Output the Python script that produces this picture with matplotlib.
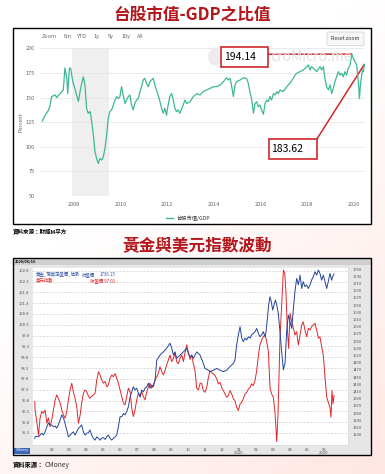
import matplotlib
matplotlib.use("Agg")
import matplotlib.pyplot as plt
import numpy as np
from matplotlib.patches import Rectangle, FancyBboxPatch, Circle

plt.rcParams['font.family'] = ['Noto Sans CJK TC', 'DejaVu Sans']

# ---- chart 1: Taiwan market cap / GDP (percent) ----
mv_year = [2006.64, 2006.76, 2006.90, 2006.97, 2007.04, 2007.19, 2007.26, 2007.40, 2007.54, 2007.61,
           2007.69, 2007.73, 2007.80, 2007.86, 2007.90, 2007.97, 2008.04, 2008.11, 2008.19, 2008.26,
           2008.33, 2008.40, 2008.47, 2008.54, 2008.61, 2008.69, 2008.76, 2008.83, 2008.90, 2008.97,
           2009.04, 2009.11, 2009.19, 2009.26, 2009.33, 2009.40, 2009.47, 2009.54, 2009.61, 2009.69,
           2009.76, 2009.83, 2009.90, 2009.97, 2010.04, 2010.11, 2010.19, 2010.26, 2010.33, 2010.40,
           2010.47, 2010.54, 2010.61, 2010.69, 2010.76, 2010.83, 2010.90, 2010.97, 2011.04, 2011.11,
           2011.19, 2011.26, 2011.33, 2011.40, 2011.47, 2011.54, 2011.61, 2011.69, 2011.76, 2011.83,
           2011.90, 2011.97, 2012.04, 2012.11, 2012.19, 2012.26, 2012.33, 2012.40, 2012.47, 2012.54,
           2012.69, 2012.76, 2012.84, 2012.98, 2013.12, 2013.27, 2013.41, 2013.55, 2013.69, 2013.84,
           2013.98, 2014.12, 2014.27, 2014.41, 2014.55, 2014.62, 2014.70, 2014.77, 2014.84, 2014.91,
           2014.98, 2015.13, 2015.27, 2015.41, 2015.48, 2015.55, 2015.63, 2015.70, 2015.77, 2015.84,
           2015.91, 2015.98, 2016.05, 2016.13, 2016.20, 2016.27, 2016.34, 2016.41, 2016.48, 2016.56,
           2016.63, 2016.70, 2016.77, 2016.84, 2016.98, 2017.13, 2017.27, 2017.41, 2017.49, 2017.56,
           2017.70, 2017.84, 2017.99, 2018.06, 2018.13, 2018.20, 2018.27, 2018.42, 2018.56, 2018.63,
           2018.70, 2018.77, 2018.84, 2018.92, 2018.99, 2019.06, 2019.13, 2019.20, 2019.27, 2019.35,
           2019.42, 2019.49, 2019.56, 2019.63, 2019.70, 2019.77, 2019.85, 2019.92, 2019.99, 2020.06,
           2020.13, 2020.20, 2020.25, 2020.30, 2020.35, 2020.39, 2020.42, 2020.46]
mv_pct = [126.2, 132.0, 137.0, 142.0, 151.0, 152.6, 150.0, 154.0, 157.7, 180.0,
          169.5, 154.0, 179.7, 179.7, 173.0, 164.0, 159.0, 152.6, 146.0, 156.0,
          164.5, 171.0, 162.7, 139.0, 134.0, 135.7, 125.5, 112.0, 95.0, 88.0,
          83.0, 88.0, 86.6, 90.0, 98.4, 112.0, 129.0, 135.7, 137.4, 142.4,
          147.5, 151.0, 149.0, 151.0, 161.0, 152.6, 144.0, 147.5, 151.0, 152.6,
          142.4, 137.4, 144.0, 147.5, 149.0, 156.0, 161.0, 167.8, 169.5, 164.5,
          161.0, 166.0, 168.0, 169.5, 162.7, 157.7, 152.6, 145.8, 139.0, 134.0,
          139.0, 132.0, 142.4, 151.0, 154.0, 147.5, 139.0, 135.7, 137.4, 134.0,
          142.4, 147.5, 144.0, 145.8, 151.0, 154.0, 152.6, 156.0, 157.7, 159.3,
          161.0, 161.0, 162.7, 166.1, 170.1, 167.8, 169.5, 161.0, 151.0, 162.7,
          166.1, 167.8, 170.1, 169.5, 164.5, 156.0, 147.5, 134.0, 144.0, 145.8,
          140.7, 142.4, 137.4, 133.0, 144.0, 147.5, 145.8, 151.0, 147.5, 154.0,
          152.6, 156.0, 154.0, 157.7, 156.0, 161.0, 164.5, 169.5, 173.0, 174.6,
          176.3, 178.0, 181.4, 183.1, 178.0, 181.4, 179.7, 176.3, 181.4, 178.0,
          181.4, 169.5, 161.0, 157.7, 162.7, 154.0, 159.3, 166.1, 171.1, 176.3,
          172.9, 174.6, 171.1, 176.3, 172.9, 179.7, 183.1, 194.14, 189.8, 186.5,
          183.1, 167.8, 149.0, 164.5, 173.0, 178.0, 176.3, 183.62]
recession = (2007.92, 2009.50)
peak_label = '194.14'
last_label = '183.62'

# ---- chart 2: gold vs dollar index, months since 2019-01-01 ----
dxy_t = [0.00, 0.02, 0.12, 0.22, 0.31, 0.41, 0.51, 0.61, 0.71, 0.80, 0.90, 1.00, 1.10, 1.20, 1.29,
         1.39, 1.49, 1.59, 1.69, 1.78, 1.88, 1.98, 2.08, 2.18, 2.27, 2.37, 2.47, 2.57, 2.67, 2.76,
         2.86, 2.96, 3.06, 3.16, 3.25, 3.35, 3.45, 3.55, 3.65, 3.75, 3.84, 3.94, 4.04, 4.14, 4.24,
         4.33, 4.43, 4.53, 4.63, 4.73, 4.82, 4.92, 5.02, 5.12, 5.22, 5.31, 5.41, 5.51, 5.61, 5.71,
         5.80, 5.90, 6.00, 6.10, 6.20, 6.29, 6.39, 6.49, 6.59, 6.69, 6.78, 6.88, 6.98, 7.08, 7.18,
         7.27, 7.37, 7.47, 7.57, 7.67, 7.76, 7.86, 7.96, 8.06, 8.16, 8.25, 8.35, 8.45, 8.55, 8.65,
         8.75, 8.84, 8.94, 9.04, 9.14, 9.24, 9.33, 9.43, 9.53, 9.63, 9.73, 9.82, 9.92, 10.02, 10.12,
         10.22, 10.31, 10.41, 10.51, 10.61, 10.71, 10.80, 10.90, 11.00, 11.10, 11.20, 11.29, 11.39,
         11.49, 11.59, 11.69, 11.78, 11.88, 11.98, 12.08, 12.18, 12.27, 12.37, 12.47, 12.57, 12.67,
         12.76, 12.86, 12.96, 13.06, 13.16, 13.25, 13.35, 13.45, 13.55, 13.65, 13.75, 13.84, 13.94,
         14.04, 14.14, 14.24, 14.31, 14.43, 14.53, 14.63, 14.71, 14.78, 14.86, 14.94, 15.02, 15.12,
         15.22, 15.31, 15.41, 15.51, 15.61, 15.71, 15.80, 15.90, 16.00, 16.10, 16.20, 16.29, 16.39,
         16.49, 16.59, 16.69, 16.78, 16.88, 16.98, 17.08, 17.18, 17.27, 17.37, 17.43, 17.49, 17.55,
         17.61]
dxy_v = [96.75, 96.36, 95.82, 95.20, 95.98, 96.30, 96.21, 96.36, 95.75, 96.00, 95.59, 95.90, 96.36, 96.83, 97.06,
         96.90, 96.70, 96.36, 96.13, 95.98, 96.28, 96.83, 97.29, 97.60, 97.20, 96.90, 96.51, 95.75, 96.13, 96.67,
         97.14, 97.29, 97.20, 97.00, 96.90, 97.00, 97.06, 97.14, 97.75, 98.13, 97.98, 97.75, 97.60, 97.68, 97.44,
         97.52, 97.83, 97.98, 97.90, 98.05, 97.83, 97.60, 97.29, 96.98, 96.67, 96.60, 96.98, 97.37, 97.20, 96.44,
         96.06, 96.36, 96.83, 97.14, 96.98, 97.20, 96.98, 96.83, 97.20, 97.44, 97.60, 97.37, 97.52, 97.75, 97.90,
         98.05, 98.36, 98.13, 97.98, 98.20, 98.44, 98.67, 98.90, 98.60, 98.75, 99.00, 98.60, 98.50, 98.75, 98.90,
         98.60, 99.00, 99.37, 99.00, 98.70, 98.90, 98.50, 98.20, 97.37, 97.29, 97.60, 97.60, 97.26, 97.18, 97.41,
         97.87, 98.18, 98.10, 98.03, 97.95, 97.80, 97.57, 97.64, 97.41, 97.26, 97.10, 96.95, 97.03,
         97.26, 97.10, 96.87, 96.80, 96.49, 96.34, 96.64, 96.72, 96.87, 97.10, 97.18, 97.33, 97.41,
         97.57, 97.49, 97.72, 98.18, 98.90, 99.37, 99.60, 99.75, 99.83, 99.52, 99.06, 97.41, 97.10,
         96.95, 96.21, 94.90, 96.06, 99.68, 101.20, 102.83, 102.70, 101.83, 100.14, 99.20, 100.83, 100.44,
         100.14, 99.83, 99.98, 99.37, 99.83, 100.29, 100.44, 100.06, 99.75, 100.14, 100.06, 100.21, 100.29,
         100.37, 100.06, 99.68, 99.75, 99.29, 98.90, 97.87, 96.95, 96.72, 96.49, 96.03, 97.26, 96.64,
         97.03]
gold_t = [0.00, 0.02, 0.12, 0.22, 0.31, 0.41, 0.51, 0.61, 0.71, 0.80, 0.90, 1.00, 1.10, 1.20, 1.29,
          1.39, 1.49, 1.59, 1.69, 1.78, 1.88, 1.98, 2.08, 2.18, 2.27, 2.37, 2.47, 2.57, 2.67, 2.76,
          2.86, 2.96, 3.06, 3.16, 3.25, 3.35, 3.45, 3.55, 3.65, 3.75, 3.84, 3.94, 4.04, 4.14, 4.24,
          4.33, 4.43, 4.53, 4.63, 4.73, 4.82, 4.92, 5.02, 5.12, 5.22, 5.31, 5.41, 5.51, 5.61, 5.71,
          5.80, 5.90, 6.00, 6.10, 6.20, 6.29, 6.39, 6.49, 6.59, 6.69, 6.78, 6.88, 6.98, 7.08, 7.18,
          7.37, 7.57, 7.76, 7.96, 8.06, 8.16, 8.25, 8.35, 8.55, 8.75, 8.94, 9.04, 9.14, 9.24, 9.33,
          9.43, 9.53, 9.73, 9.92, 10.02, 10.22, 10.31, 10.51, 10.71, 10.90, 11.10, 11.29, 11.49, 11.69,
          11.78, 11.88, 11.98, 12.08, 12.18, 12.27, 12.37, 12.47, 12.57, 12.67, 12.76, 12.86, 12.96,
          13.06, 13.16, 13.25, 13.35, 13.45, 13.55, 13.61, 13.69, 13.76, 13.84, 13.92, 14.00, 14.08,
          14.16, 14.24, 14.33, 14.43, 14.53, 14.63, 14.73, 14.82, 14.92, 15.02, 15.12, 15.22, 15.31,
          15.41, 15.51, 15.61, 15.71, 15.80, 15.90, 16.00, 16.10, 16.20, 16.29, 16.39, 16.49, 16.59,
          16.69, 16.78, 16.88, 16.98, 17.08, 17.18, 17.27, 17.37, 17.47, 17.53, 17.61]
gold_v = [1280, 1284, 1286, 1284, 1289, 1294, 1289, 1298, 1312, 1322, 1317, 1317, 1312, 1314, 1308,
          1317, 1331, 1345, 1336, 1322, 1303, 1284, 1289, 1294, 1298, 1289, 1298, 1308, 1312, 1317,
          1298, 1289, 1294, 1296, 1303, 1289, 1280, 1275, 1284, 1280, 1275, 1280, 1282, 1277, 1284,
          1289, 1280, 1275, 1280, 1284, 1289, 1312, 1340, 1340, 1349, 1345, 1354, 1368, 1395, 1409,
          1423, 1414, 1419, 1405, 1395, 1414, 1409, 1419, 1423, 1433, 1419, 1428, 1423, 1442, 1497,
          1511, 1520, 1530, 1544, 1530, 1511, 1520, 1502, 1511, 1520, 1530, 1516, 1506, 1511, 1502,
          1511, 1520, 1511, 1488, 1474, 1469, 1465, 1469, 1474, 1469, 1465, 1469, 1479, 1488,
          1497, 1539, 1567, 1590, 1558, 1548, 1558, 1553, 1562, 1558, 1567, 1571, 1576,
          1585, 1571, 1562, 1567, 1576, 1562, 1576, 1613, 1650, 1673, 1659, 1636, 1650,
          1664, 1650, 1627, 1576, 1520, 1470, 1490, 1576, 1622, 1604, 1585, 1641, 1687,
          1724, 1706, 1733, 1696, 1715, 1701, 1706, 1696, 1706, 1719, 1729, 1742, 1733,
          1747, 1738, 1719, 1733, 1715, 1696, 1715, 1738, 1719, 1729, 1736]
month_ticks = list(range(1, 18))
month_labels = ['02', '03', '04', '05', '06', '07', '08', '09', '10', '11', '12',
                '01\n2020', '02', '03', '04', '05', '06\n2020']
dxy_ticks = [95.3 + 0.5 * i for i in range(16)]
gold_ticks = list(range(1290, 1751, 20))

W, H = 385, 474
RED = '#b5161b'
GREEN = '#3db795'


def rect(x0, y0, x1, y1):
    return [x0 / W, 1 - y1 / H, (x1 - x0) / W, (y1 - y0) / H]


def fx(x):
    return x / W


def fy(y):
    return 1 - y / H


def box(fig, x0, y0, x1, y1, **kw):
    r = Rectangle((fx(x0), fy(y1)), (x1 - x0) / W, (y1 - y0) / H, transform=fig.transFigure, **kw)
    fig.add_artist(r)
    return r


fig = plt.figure(figsize=(W / 100, H / 100), dpi=100)
fig.patch.set_facecolor('white')

# faint pink wash towards the bottom right, like the page behind the charts
bg = fig.add_axes([0, 0, 1, 1], zorder=-10)
gx, gy = np.meshgrid(np.linspace(0, 1, 60), np.linspace(0, 1, 60))
wash = np.clip((gx * 0.6 + gy * 0.9) - 0.55, 0, 1)
bg_img = np.ones((60, 60, 3))
bg_img[..., 1] -= 0.10 * wash
bg_img[..., 2] -= 0.11 * wash
bg.imshow(bg_img, extent=[0, 1, 0, 1], origin='upper', aspect='auto')
bg.axis('off')

# titles and sources
fig.text(fx(192), fy(15), '台股市值-GDP之比值', ha='center', va='center', fontsize=12,
         fontweight='bold', color=RED)
fig.text(fx(197), fy(246), '黃金與美元指數波動', ha='center', va='center', fontsize=12,
         fontweight='bold', color=RED)
fig.text(fx(13), fy(232), '資料來源：財經M平方', ha='left', va='center', fontsize=4, fontweight='bold')
fig.text(fx(13), fy(465), '資料來源：', ha='left', va='center', fontsize=4.5, fontweight='bold')
fig.text(fx(45), fy(465), 'CMoney', ha='left', va='center', fontsize=4.8, color='#333333')

# ---------------- chart 1 ----------------
box(fig, 13.3, 27.7, 370.7, 224, facecolor='white', edgecolor='none', zorder=-2)
box(fig, 13.3, 27.7, 370.7, 224, facecolor='none', edgecolor='black', lw=1.0, zorder=8)

ax1 = fig.add_axes(rect(40, 48.3, 365, 196))
ax1.set_facecolor('none')
ax1.axvspan(recession[0], recession[1], facecolor='#efefef', edgecolor='none', zorder=0.2)
ax1.plot(mv_year, mv_pct, color=GREEN, lw=0.9, zorder=5)
ax1.set_xlim(2006.54, 2020.49)
ax1.set_ylim(50, 200)
ax1.set_yticks(range(50, 201, 25))
ax1.set_xticks(range(2008, 2021, 2))
ax1.yaxis.grid(True, color='#e6e6e6', lw=0.6)
ax1.set_axisbelow(True)
for s in ax1.spines.values():
    s.set_visible(False)
ax1.tick_params(length=0, labelsize=4, labelcolor='#666666')
ax1.tick_params(axis='y', pad=3.5)
ax1.tick_params(axis='x', pad=4.5)
fig.text(fx(20.7), fy(121.7), 'Percent', rotation=90, ha='center', va='center', fontsize=4,
         color='#666666')

# range selector buttons
for lbl, x in [('Zoom', 42), ('6m', 64), ('YTD', 77), ('1y', 94), ('5y', 108), ('10y', 122), ('All', 137)]:
    fig.text(fx(x), fy(36.7), lbl, ha='left', va='center', fontsize=4, color='#666666')
rb = FancyBboxPatch((fx(327), fy(45.7)), 37 / W, 13.7 / H, boxstyle='round,pad=0,rounding_size=0.004',
                    transform=fig.transFigure, facecolor='#f7f7f7', edgecolor='#cccccc', lw=0.5, zorder=4)
fig.add_artist(rb)
fig.text(fx(345.5), fy(38.8), 'Reset zoom', ha='center', va='center', fontsize=3.8, color='#333333', zorder=5)

# watermark (its first letters sit under the 194.14 box)
fig.add_artist(Circle((fx(215), fy(57)), 7 / W, transform=fig.transFigure, facecolor='#ececec',
                      edgecolor='none', zorder=1))
fig.text(fx(270), fy(57), 'croMicro.me', ha='left', va='center', fontsize=10, color='#e2e2e2', zorder=1)

# legend
fig.add_artist(plt.Line2D([fx(166), fx(173)], [fy(217.7), fy(217.7)], color=GREEN, lw=1.0,
                          transform=fig.transFigure))
fig.text(fx(176), fy(217.7), '台股市值/GDP', ha='left', va='center', fontsize=3.8, color='#333333')

# annotation boxes
box(fig, 220.7, 47.3, 268.3, 66.7, facecolor='white', edgecolor='#d0282c', lw=1.2, zorder=6)
fig.text(fx(224), fy(57.5), peak_label, ha='left', va='center', fontsize=7.5, color='black', zorder=7)
box(fig, 269, 139.3, 316.7, 159.3, facecolor='white', edgecolor='#d0282c', lw=1.2, zorder=6)
fig.text(fx(271.5), fy(149.5), last_label, ha='left', va='center', fontsize=7.5, color='black', zorder=7)
peak_i = mv_pct.index(max(mv_pct))
ax1.annotate('', xy=(mv_year[peak_i], mv_pct[peak_i]), xycoords='data',
             xytext=(fx(268.3), fy(54.3)), textcoords='figure fraction',
             arrowprops=dict(arrowstyle='-', color='#d0282c', lw=1.1, shrinkA=0, shrinkB=0))
ax1.annotate('', xy=(mv_year[-1], mv_pct[-1]), xycoords='data',
             xytext=(fx(316.7), fy(139.3)), textcoords='figure fraction',
             arrowprops=dict(arrowstyle='-', color='#d0282c', lw=1.1, shrinkA=0, shrinkB=0))

# ---------------- chart 2 ----------------
box(fig, 13.3, 258.3, 370.7, 455, facecolor='#e6e6e6', edgecolor='none', zorder=-2)
box(fig, 13.3, 258.3, 370.7, 264.5, facecolor='#cfcfcf', edgecolor='none', zorder=-1)
box(fig, 13.3, 258.3, 370.7, 455, facecolor='none', edgecolor='black', lw=1.0, zorder=8)
fig.text(fx(15), fy(261.3), '2020/06/16', ha='left', va='center', fontsize=2.8, fontweight='bold')

ax2 = fig.add_axes(rect(31.7, 266.7, 348.3, 445))
ax2.set_facecolor('white')
ax2.plot(dxy_t, dxy_v, color='#e3262b', lw=0.7)
ax2.set_xlim(-0.18, 18.45)
ax2.set_ylim(94.745, 102.985)
ax2.set_yticks(dxy_ticks)
ax2.set_yticklabels(['%.1f' % v for v in dxy_ticks])
ax2.set_xticks(month_ticks)
ax2.set_xticklabels(month_labels, linespacing=0.9)
ax2.yaxis.grid(True, color='#cdcdcd', lw=0.5, linestyle=(0, (3, 2)))
ax2.set_axisbelow(True)
ax2.tick_params(length=0, labelsize=3, labelcolor='#555555')
ax2.tick_params(axis='y', pad=1.6)
ax2.tick_params(axis='x', pad=2.0)
for s in ax2.spines.values():
    s.set_color('#d8d8d8')
    s.set_linewidth(0.4)

ax3 = ax2.twinx()
ax3.plot(gold_t, gold_v, color='#24449a', lw=0.7)
ax3.set_ylim(1261.4, 1756.4)
ax3.set_yticks(gold_ticks)
ax3.tick_params(length=0, labelsize=3, labelcolor='#555555', pad=3)
for s in ax3.spines.values():
    s.set_visible(False)

# legend text in the plot
fig.text(fx(36), fy(274.3), '黃金_現貨定盤價_倫敦', ha='left', va='center', fontsize=3.2, color='#3554a5')
fig.text(fx(82), fy(274.3), '收盤價', ha='left', va='center', fontsize=3.2, color='#3554a5')
fig.text(fx(100), fy(274.3), '1736.15', ha='left', va='center', fontsize=3.2, color='#3554a5')
fig.text(fx(36), fy(280.5), '美元指數', ha='left', va='center', fontsize=3.2, color='#e3262b')
fig.text(fx(90), fy(280.5), '收盤價 97.01', ha='left', va='center', fontsize=3.2, color='#e3262b')

# CMoney badge
box(fig, 13.5, 447.5, 30, 453.5, facecolor='#3a66b5', edgecolor='none', zorder=3)
fig.text(fx(21.7), fy(450.5), 'CMoney', ha='center', va='center', fontsize=2.5, color='white', zorder=4)

fig.savefig('out.png', dpi=100)
